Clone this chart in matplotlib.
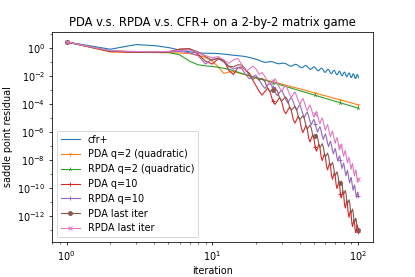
import numpy as np
import matplotlib
matplotlib.use("Agg")
import matplotlib.pyplot as plt
from matplotlib.ticker import FixedLocator, NullFormatter

# iterations
iterations = list(range(1, 102))

# log10 of saddle point residual
cfr_plus_log = [0.43, -0.09, 0.24, 0.17, 0.03, -0.15, -0.28, -0.35, -0.38, -0.38,
                -0.40, -0.44, -0.48, -0.52, -0.55, -0.58, -0.62, -0.68, -0.74, -0.80,
                -0.88, -0.97, -1.03, -1.01, -0.97, -0.99, -1.05, -1.11, -1.13, -1.10,
                -1.08, -1.12, -1.20, -1.28, -1.30, -1.24, -1.17, -1.18, -1.26, -1.36,
                -1.42, -1.38, -1.28, -1.25, -1.32, -1.44, -1.52, -1.50, -1.40, -1.34,
                -1.40, -1.52, -1.62, -1.62, -1.52, -1.44, -1.47, -1.60, -1.72, -1.74,
                -1.64, -1.53, -1.54, -1.66, -1.80, -1.84, -1.74, -1.62, -1.60, -1.72,
                -1.86, -1.92, -1.84, -1.70, -1.66, -1.76, -1.92, -1.99, -1.92, -1.78,
                -1.72, -1.80, -1.96, -2.06, -2.00, -1.86, -1.78, -1.84, -2.00, -2.12,
                -2.08, -1.93, -1.84, -1.88, -2.04, -2.18, -2.16, -2.00, -1.90, -1.94,
                -2.12]

pda_q2_log = [0.43, -0.29, -0.32, -0.33, -0.34, -0.36, -0.40, -0.52, -0.68, -0.95,
              -1.35, -1.82, -1.72, -1.69, -1.77, -1.85, -1.92, -1.99, -2.05, -2.11,
              -2.17, -2.22, -2.27, -2.32, -2.37, -2.42, -2.46, -2.50, -2.54, -2.58,
              -2.62, -2.66, -2.70, -2.73, -2.77, -2.80, -2.83, -2.86, -2.89, -2.92,
              -2.95, -2.98, -3.01, -3.04, -3.07, -3.09, -3.12, -3.15, -3.17, -3.20,
              -3.22, -3.25, -3.27, -3.29, -3.31, -3.34, -3.36, -3.38, -3.40, -3.42,
              -3.44, -3.46, -3.48, -3.50, -3.52, -3.54, -3.56, -3.58, -3.60, -3.61,
              -3.63, -3.65, -3.66, -3.68, -3.70, -3.71, -3.73, -3.75, -3.76, -3.78,
              -3.79, -3.81, -3.82, -3.84, -3.85, -3.87, -3.88, -3.90, -3.91, -3.92,
              -3.94, -3.95, -3.96, -3.98, -3.99, -4.00, -4.02, -4.03, -4.04, -4.05,
              -4.07]

rpda_q2_log = [0.43, -0.22, -0.27, -0.29, -0.32, -0.50, -0.95, -1.20, -1.28, -1.32,
               -1.38, -1.45, -1.53, -1.62, -1.73, -1.82, -1.90, -1.98, -2.05, -2.12,
               -2.19, -2.25, -2.31, -2.36, -2.42, -2.47, -2.52, -2.57, -2.62, -2.67,
               -2.71, -2.75, -2.79, -2.83, -2.87, -2.91, -2.95, -2.98, -3.02, -3.05,
               -3.09, -3.12, -3.15, -3.18, -3.21, -3.24, -3.27, -3.30, -3.33, -3.35,
               -3.38, -3.41, -3.43, -3.46, -3.48, -3.51, -3.53, -3.55, -3.58, -3.60,
               -3.62, -3.64, -3.66, -3.69, -3.71, -3.73, -3.75, -3.77, -3.79, -3.81,
               -3.83, -3.84, -3.86, -3.88, -3.90, -3.92, -3.93, -3.95, -3.97, -3.99,
               -4.00, -4.02, -4.04, -4.05, -4.07, -4.08, -4.10, -4.11, -4.13, -4.14,
               -4.16, -4.17, -4.19, -4.20, -4.22, -4.23, -4.25, -4.26, -4.27, -4.29,
               -4.30]

pda_q10_log = [0.43, -0.25, -0.30, -0.31, -0.28, -0.08, -0.05, -0.45, -0.95, -1.15,
               -0.78, -0.85, -1.60, -1.90, -1.40, -1.35, -1.60, -1.80, -2.30, -2.70,
               -3.09, -3.37, -3.12, -2.87, -3.15, -3.76, -4.03, -3.79, -3.54, -3.82,
               -4.43, -4.70, -4.46, -4.21, -4.48, -5.10, -5.37, -5.12, -4.88, -5.15,
               -5.76, -6.04, -5.79, -5.54, -5.82, -6.43, -6.71, -6.46, -6.21, -6.49,
               -7.10, -7.37, -7.13, -6.88, -7.15, -7.77, -8.04, -7.79, -7.55, -7.82,
               -8.43, -8.71, -8.46, -8.21, -8.49, -9.10, -9.38, -9.13, -8.88, -9.16,
               -9.77, -10.04, -9.80, -9.55, -9.82, -10.44, -10.71, -10.46, -10.22, -10.49,
               -11.15, -11.43, -11.18, -10.93, -11.21, -11.82, -12.10, -11.85, -11.60, -11.88,
               -12.49, -12.76, -12.52, -12.27, -12.54, -13.05, -13.18, -12.92, -12.64, -12.81,
               -13.15]

rpda_q10_log = [0.43, -0.22, -0.28, -0.30, -0.28, -0.25, -0.35, -0.55, -1.15, -0.80,
                -0.75, -1.00, -1.35, -1.50, -1.40, -1.50, -1.90, -2.20, -2.05, -1.95,
                -2.28, -2.64, -2.89, -2.65, -2.50, -2.80, -3.16, -3.41, -3.17, -3.02,
                -3.32, -3.68, -3.93, -3.69, -3.54, -3.84, -4.20, -4.45, -4.21, -4.06,
                -4.36, -4.72, -4.97, -4.73, -4.58, -4.88, -5.24, -5.49, -5.25, -5.10,
                -5.40, -5.76, -6.01, -5.77, -5.62, -5.92, -6.28, -6.53, -6.29, -6.14,
                -6.44, -6.80, -7.05, -6.81, -6.66, -6.96, -7.32, -7.57, -7.33, -7.18,
                -7.48, -7.84, -8.09, -7.85, -7.70, -8.00, -8.36, -8.61, -8.37, -8.22,
                -8.52, -8.88, -9.13, -8.89, -8.74, -9.04, -9.40, -9.65, -9.41, -9.26,
                -9.56, -9.92, -10.17, -9.93, -9.78, -10.08, -10.44, -10.69, -10.45, -10.30,
                -10.60]

pda_last_log = [0.43, -0.22, -0.30, -0.32, -0.28, -0.10, -0.07, -0.28, -0.62, -0.88,
                -0.72, -0.95, -1.30, -1.35, -1.20, -1.22, -1.55, -1.95, -2.25, -2.10,
                -2.30, -2.17, -2.40, -2.87, -3.11, -2.97, -2.83, -3.07, -3.54, -3.78,
                -3.64, -3.50, -3.74, -4.21, -4.44, -4.31, -4.17, -4.40, -4.88, -5.11,
                -4.97, -4.84, -5.07, -5.54, -5.78, -5.64, -5.50, -5.74, -6.21, -6.45,
                -6.31, -6.17, -6.41, -6.88, -7.11, -6.98, -6.84, -7.07, -7.55, -7.78,
                -7.64, -7.51, -7.74, -8.21, -8.45, -8.31, -8.18, -8.41, -8.88, -9.12,
                -8.98, -8.84, -9.08, -9.55, -9.78, -9.65, -9.51, -9.74, -10.22, -10.45,
                -10.31, -10.18, -10.41, -10.88, -11.12, -10.98, -10.85, -11.08, -11.55, -11.79,
                -11.65, -11.51, -11.75, -12.22, -12.45, -12.32, -12.18, -12.41, -12.89, -13.12,
                -12.98]

rpda_last_log = [0.43, -0.20, -0.25, -0.27, -0.25, -0.18, -0.15, -0.35, -0.55, -0.70,
                 -0.62, -0.85, -1.10, -0.85, -0.75, -1.20, -1.65, -1.50, -1.30, -1.50,
                 -1.90, -1.75, -2.04, -2.38, -2.63, -2.37, -2.21, -2.50, -2.85, -3.09,
                 -2.83, -2.68, -2.97, -3.31, -3.56, -3.30, -3.14, -3.43, -3.78, -4.02,
                 -3.76, -3.61, -3.90, -4.24, -4.49, -4.23, -4.07, -4.36, -4.71, -4.95,
                 -4.69, -4.54, -4.83, -5.17, -5.42, -5.16, -5.00, -5.29, -5.64, -5.88,
                 -5.62, -5.47, -5.76, -6.10, -6.35, -6.09, -5.93, -6.22, -6.57, -6.81,
                 -6.55, -6.40, -6.69, -7.03, -7.28, -7.02, -6.86, -7.15, -7.50, -7.74,
                 -7.48, -7.33, -7.62, -7.96, -8.21, -7.95, -7.79, -8.08, -8.43, -8.67,
                 -8.41, -8.26, -8.55, -8.89, -9.14, -8.88, -8.72, -9.01, -9.36, -9.60,
                 -9.34]

labels = ["cfr+", "PDA q=2 (quadratic)", "RPDA q=2 (quadratic)", "PDA q=10",
          "RPDA q=10", "PDA last iter", "RPDA last iter"]
series = [cfr_plus_log, pda_q2_log, rpda_q2_log, pda_q10_log,
          rpda_q10_log, pda_last_log, rpda_last_log]
markers = [None, "1", "2", "+", "+", "o", "x"]

# y tick decades shown as labels
y_major_exp = [0, -2, -4, -6, -8, -10, -12]
y_minor_exp = [1, -1, -3, -5, -7, -9, -11, -13]

S = 415 / 600
plt.rcParams.update({
    "font.size": 10 * S,
    "axes.titlesize": 12 * S,
    "axes.labelsize": 10 * S,
    "xtick.labelsize": 10 * S,
    "ytick.labelsize": 10 * S,
    "legend.fontsize": 10 * S,
    "lines.linewidth": 1.15 * S,
    "lines.markersize": 4 * S,
    "lines.markeredgewidth": 1.0 * S,
    "axes.linewidth": 0.8 * S,
    "xtick.major.size": 3.5 * S,
    "ytick.major.size": 3.5 * S,
    "xtick.minor.size": 2 * S,
    "ytick.minor.size": 2 * S,
    "xtick.major.width": 0.8 * S,
    "ytick.major.width": 0.8 * S,
    "xtick.minor.width": 0.6 * S,
    "ytick.minor.width": 0.6 * S,
    "xtick.major.pad": 3.5 * S,
    "ytick.major.pad": 3.5 * S,
    "xtick.minor.pad": 3.4 * S,
    "ytick.minor.pad": 3.4 * S,
    "axes.titlepad": 6 * S,
    "axes.labelpad": 4 * S,
    "patch.linewidth": 1.0 * S,
})

fig = plt.figure(figsize=(4.15, 2.77), dpi=100)
ax = fig.add_axes([52 / 415, 35 / 277, 321 / 415, 210 / 277])

for lab, vals, mk in zip(labels, series, markers):
    y = 10.0 ** np.array(vals)
    ax.plot(iterations, y, label=lab, marker=mk, markevery=25)

ax.set_xscale("log")
ax.set_yscale("log")
ax.set_xlim(0.794, 127.2)
ax.set_ylim(10 ** -13.86, 10 ** 1.14)
ax.yaxis.set_major_locator(FixedLocator([10.0 ** e for e in y_major_exp]))
ax.yaxis.set_minor_locator(FixedLocator([10.0 ** e for e in y_minor_exp]))
ax.yaxis.set_minor_formatter(NullFormatter())
ax.set_xlabel("iteration")
ax.set_ylabel("saddle point residual")
ax.set_title("PDA v.s. RPDA v.s. CFR+ on a 2-by-2 matrix game")
ax.legend(loc="lower left")

fig.savefig("out.png", dpi=100)
